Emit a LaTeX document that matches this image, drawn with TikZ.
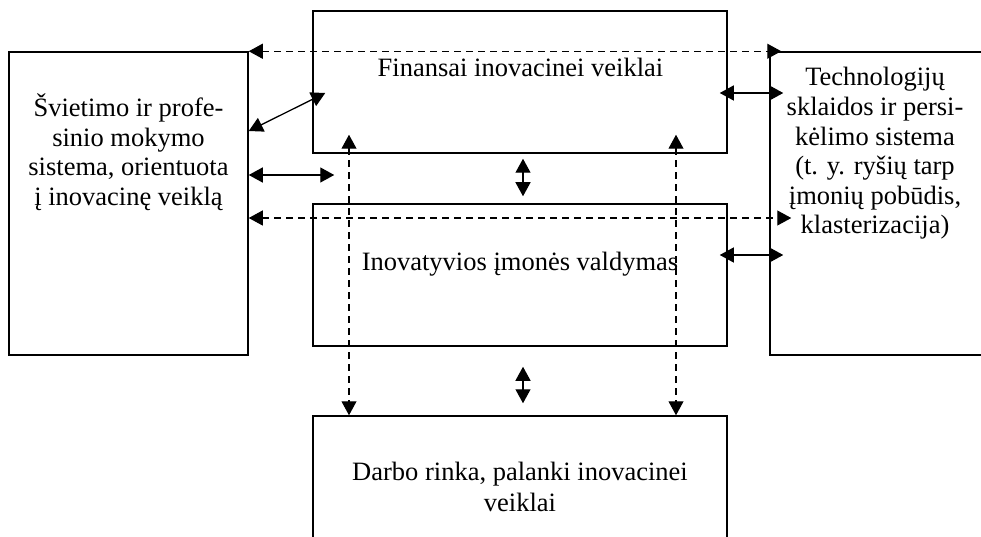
\documentclass[tikz,border=0pt]{standalone}
\usepackage{fontspec}
\setmainfont{Liberation Serif}
\usetikzlibrary{arrows.meta}
\begin{document}
\begin{tikzpicture}[x=1pt,y=-1pt,
  font=\fontsize{26.5}{29.5}\selectfont,
  >={Triangle[length=14pt,width=15pt]},
  box/.style={draw,line width=1.5pt,inner sep=0pt,fill=none},
  lbl/.style={anchor=base,align=center,inner sep=0pt},
  link/.style={line width=1.3pt,<->},
  dlink/.style={line width=1.1pt,<->,dash pattern=on 7pt off 5pt}]
\useasboundingbox (0,0) rectangle (981,537);
\clip (0,0) rectangle (981,537);

% blocks
\node[box,minimum width=239pt,minimum height=303pt] (L) at (128.5,203.5) {};
\node[box,minimum width=414pt,minimum height=142pt] (F) at (520,82) {};
\node[box,minimum width=414pt,minimum height=142pt] (I) at (520,275) {};
\node[box,minimum width=414pt,minimum height=224pt] (D) at (520,528) {};
\node[box,minimum width=320pt,minimum height=303pt] (R) at (930,203.5) {};

% block texts (anchored at the baseline of their last line)
\node[lbl] (Lt) at (128.5,205.5) {Švietimo ir profe-\\sinio mokymo\\sistema, orientuota\\į inovacinę veiklą};
\node[lbl] (Ft) at (520.5,77) {Finansai inovacinei veiklai};
\node[lbl] (It) at (520,270) {Inovatyvios įmonės valdymas};
\node[lbl] (Dt) at (520,511.5) {Darbo rinka, palanki inovacinei\\[2pt]veiklai};
\node[lbl] (Rt) at (875,233.5) {Technologijų\\sklaidos ir persi-\\kėlimo sistema\\(t. y. ryšių tarp\\įmonių pobūdis,\\klasterizacija)};

% dashed links
\draw[dlink] (L.north east) -- ([xshift=12pt]R.north west);
\draw[dlink] (L.east |- 0,218) -- ([xshift=22pt]R.west |- 0,218);
\draw[dlink] ([yshift=19pt]F.south -| 349,0) -- (D.north -| 349,0);
\draw[dlink] ([yshift=19pt]F.south -| 676,0) -- (D.north -| 676,0);

% solid links
\draw[link] (L.east |- 0,131) -- ([xshift=13pt]F.west |- 0,93);
\draw[link] (L.east |- 0,175) -- ([xshift=22pt]F.west |- 0,175);
\draw[link] ([yshift=-5pt]F.south -| 523,0) -- ([yshift=7pt]I.north -| 523,0);
\draw[link] ([yshift=-20pt]I.south -| 523,0) -- ([yshift=12pt]D.north -| 523,0);
\draw[link] ([xshift=-8pt]F.east |- 0,93) -- ([xshift=14pt]R.west |- 0,93);
\draw[link] ([xshift=-8pt]I.east |- 0,255) -- ([xshift=14pt]R.west |- 0,255);
\end{tikzpicture}
\end{document}
